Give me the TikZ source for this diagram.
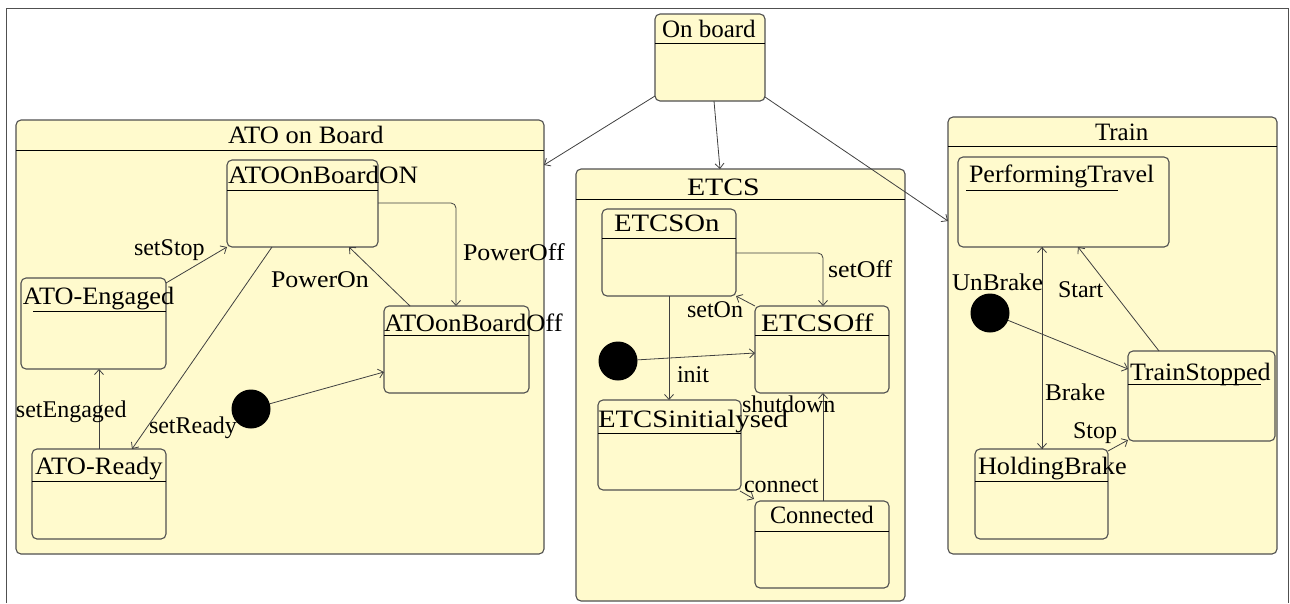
\documentclass[tikz,border=0pt]{standalone}
\usepackage{fontspec}
\setmainfont{Liberation Serif}
\newfontfamily\statefont{Liberation Serif}
\usetikzlibrary{arrows.meta,calc}
\definecolor{statefill}{HTML}{FFFACD}
\definecolor{stateline}{HTML}{505050}
\definecolor{edgeline}{HTML}{404040}
% horizontally widened text
\newcommand{\hstretch}[2]{\scalebox{#1}[1]{#2}}
\tikzset{
  box/.style={draw=stateline, fill=statefill, rounded corners=5, line width=1.1,
    inner sep=0, outer sep=0, anchor=north west},
  txt/.style={anchor=base west, inner sep=0, outer sep=0, font=\statefont\fontsize{25}{30}\selectfont},
  lbl/.style={anchor=base west, inner sep=0, outer sep=0, font=\statefont\fontsize{24}{28}\selectfont},
  tr/.style={draw=edgeline, line width=0.8, -{Straight Barb[length=5, width=9]}},
  sep/.style={draw=black, line width=0.9},
  initdot/.style={circle, fill=black, minimum size=39, inner sep=0, outer sep=0},
}
\begin{document}
\begin{tikzpicture}[x=1pt, y=-1pt]
\useasboundingbox (0,0) rectangle (1290,603);

% outer frame
\draw[line width=0.9, draw=stateline] (6,603) -- (6,8) -- (1288,8) -- (1288,603);

% ---------- composite states ----------
\node[box, minimum width=110, minimum height=87] (onb) at (655,14) {};
\draw[sep] ([yshift=-29]onb.north west) -- ([yshift=-29]onb.north east);
\node[txt] (onbT) at (662,37) {On board};

\node[box, minimum width=528, minimum height=434] (ato) at (16,120) {};
\draw[sep] ([yshift=-30]ato.north west) -- ([yshift=-30]ato.north east);
\node[txt] (atoT) at (228,143) {\hstretch{1.06}{ATO on Board}};

\node[box, minimum width=329, minimum height=432] (etcs) at (576,169) {};
\draw[sep] ([yshift=-30]etcs.north west) -- ([yshift=-30]etcs.north east);
\node[txt] (etcsT) at (687,195) {\hstretch{1.19}{ETCS}};

\node[box, minimum width=329, minimum height=437] (train) at (948,117) {};
\draw[sep] ([yshift=-29]train.north west) -- ([yshift=-29]train.north east);
\node[txt] (trainT) at (1095,140) {Train};

% ---------- ATO on Board ----------
\node[box, minimum width=151, minimum height=87] (aon) at (227,160) {};
\draw[sep] ([yshift=-30]aon.north west) -- ([yshift=-30]aon.north east);
\node[txt] (aonT) at (228,183) {\hstretch{1.08}{ATOOnBoardON}};

\node[box, minimum width=145, minimum height=91] (aeng) at (21,278) {};
\draw[sep] ([shift={(12,33)}]aeng.north west) -- ([yshift=-33]aeng.north east);
\node[txt] (aengT) at (23,304) {\hstretch{1.05}{ATO-Engaged}};

\node[box, minimum width=134, minimum height=90] (ardy) at (32,449) {};
\draw[sep] ([yshift=-32]ardy.north west) -- ([yshift=-32]ardy.north east);
\node[txt] (ardyT) at (35,474) {\hstretch{1.06}{ATO-Ready}};

\node[box, minimum width=145, minimum height=87] (aoff) at (384,306) {};
\draw[sep] ([yshift=-29]aoff.north west) -- ([yshift=-29]aoff.north east);
\node[txt] (aoffT) at (384,331) {\hstretch{1.06}{ATOonBoardOff}};

\node[initdot] (adot) at (251,409) {};

% ---------- ETCS ----------
\node[box, minimum width=134, minimum height=87] (eon) at (602,209) {};
\draw[sep] ([yshift=-29]eon.north west) -- ([yshift=-29]eon.north east);
\node[txt] (eonT) at (614,231) {\hstretch{1.15}{ETCSOn}};

\node[box, minimum width=134, minimum height=87] (eoff) at (755,306) {};
\draw[sep] ([yshift=-29]eoff.north west) -- ([yshift=-29]eoff.north east);
\node[txt] (eoffT) at (761,331) {\hstretch{1.18}{ETCSOff}};

\node[box, minimum width=143, minimum height=90] (einit) at (598,400) {};
\draw[sep] ([yshift=-33]einit.north west) -- ([yshift=-33]einit.north east);
\node[txt] (einitT) at (598,427) {\hstretch{1.15}{ETCSinitialysed}};

\node[box, minimum width=134, minimum height=87] (econ) at (755,501) {};
\draw[sep] ([yshift=-30]econ.north west) -- ([yshift=-30]econ.north east);
\node[txt] (econT) at (770,523) {\hstretch{0.97}{Connected}};

\node[initdot] (edot) at (618,361) {};

% ---------- Train ----------
\node[box, minimum width=211, minimum height=90] (ptr) at (958,157) {};
\draw[sep] ([shift={(8,33)}]ptr.north west) -- ([shift={(160,33)}]ptr.north west);
\node[txt] (ptrT) at (969,182) {\hstretch{1.04}{PerformingTravel}};

\node[box, minimum width=147, minimum height=90] (tst) at (1128,351) {};
\draw[sep] ([yshift=-33]tst.north west) -- ([shift={(133,33)}]tst.north west);
\node[txt] (tstT) at (1130,380) {\hstretch{1.04}{TrainStopped}};

\node[box, minimum width=133, minimum height=90] (hbr) at (975,449) {};
\draw[sep] ([yshift=-32]hbr.north west) -- ([yshift=-32]hbr.north east);
\node[txt] (hbrT) at (978,474) {\hstretch{1.05}{HoldingBrake}};

\node[initdot] (tdot) at (990,313) {};

% ---------- transitions from On board ----------
\draw[tr] ([yshift=5]onb.south west) -- ([yshift=-45]ato.north east);
\draw[tr] ([xshift=59]onb.south west) -- ([xshift=144]etcs.north west);
\draw[tr] ([yshift=4]onb.south east) -- ([yshift=-104]train.north west);

% ---------- ATO transitions ----------
\draw[tr] ([yshift=-5]aeng.north east) -- (aon.south west);
\node[lbl] (lStop) at (134,255) {setStop};
\draw[tr] ([xshift=45]aon.south west) -- ([xshift=100]ardy.north west);
\node[lbl] (lReady) at (149,433) {setReady};
\draw[tr] ([xshift=67]ardy.north west) -- ([xshift=78]aeng.south west);
\node[lbl] (lEng) at (16,417) {setEngaged};
\draw[tr] ([xshift=26]aoff.north west) -- ([xshift=122]aon.south west);
\node[lbl] (lOn) at (271,287) {\hstretch{1.08}{PowerOn}};
\draw[tr, rounded corners=5] ([yshift=-43]aon.north east) -| ([xshift=72]aoff.north west);
\node[lbl] (lOff) at (463,260) {\hstretch{1.08}{PowerOff}};
\draw[tr] (adot) -- ([yshift=21]aoff.south west);

% ---------- ETCS transitions ----------
\draw[tr, rounded corners=5] ([yshift=-44]eon.north east) -| ([xshift=68]eoff.north west);
\node[lbl] (lsOff) at (828,277) {\hstretch{1.08}{setOff}};
\draw[tr] (eoff.north west) -- (eon.south east);
\node[lbl] (lsOn) at (687,317) {setOn};
\draw[tr] ([xshift=67]eon.south west) -- ([xshift=71]einit.north west);
\node[lbl] (lInit) at (677,382) {init};
\draw[tr] (edot) -- ([yshift=40]eoff.south west);
\draw[tr] ([shift={(-1,1)}]einit.south east) -- ([shift={(-1,-2)}]econ.north west);
\node[lbl] (lConn) at (744,492) {connect};
\draw[tr] ([xshift=68]econ.north west) -- ([xshift=68]eoff.south west);
\node[lbl] (lShut) at (742,412) {shutdown};

% ---------- Train transitions ----------
\draw[tr] ([xshift=84]ptr.south west) -- ([xshift=67]hbr.north west);
\draw[tr] ([xshift=67]hbr.north west) -- ([xshift=84]ptr.south west);
\node[lbl] (lUn) at (952,290) {\hstretch{1.05}{UnBrake}};
\node[lbl] (lBrake) at (1045,400) {\hstretch{1.05}{Brake}};
\draw[tr] ([xshift=31]tst.north west) -- ([xshift=120]ptr.south west);
\node[lbl] (lStart) at (1058,297) {Start};
\draw[tr] (tdot) -- ([yshift=-18]tst.north west);
\draw[tr] ([yshift=-2]hbr.north east) -- ([yshift=1]tst.south west);
\node[lbl] (lStop2) at (1073,438) {Stop};
\end{tikzpicture}
\end{document}
